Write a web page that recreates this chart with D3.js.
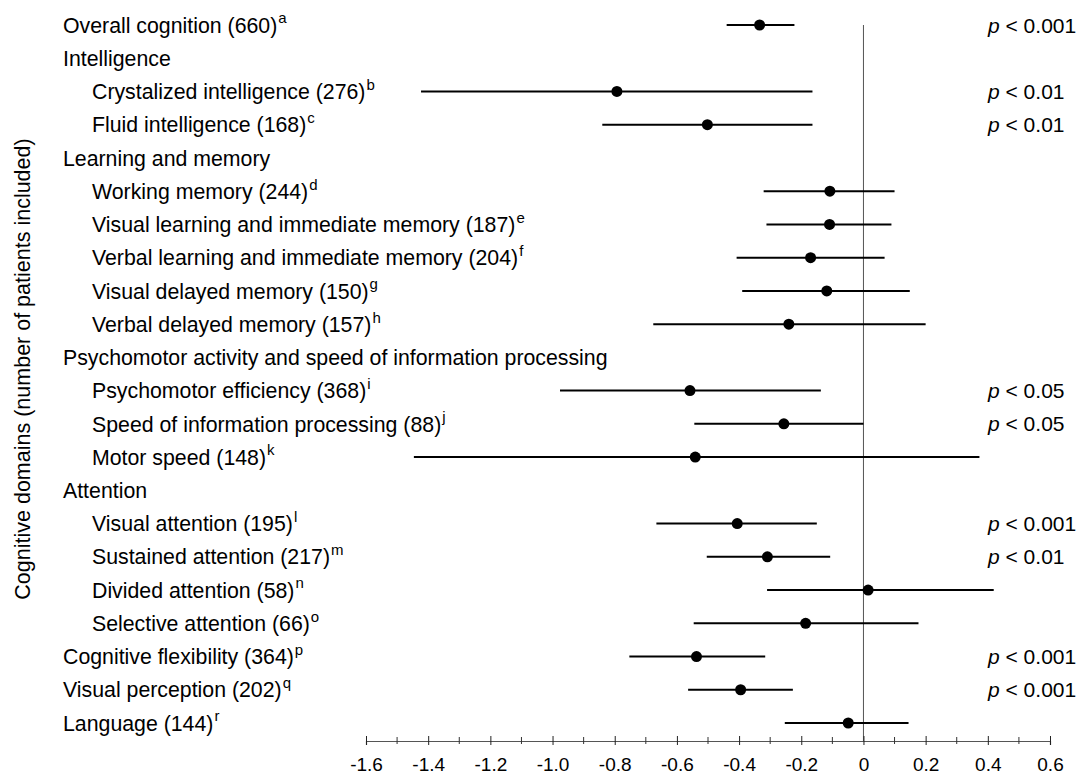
<!DOCTYPE html>
<html>
<head>
<meta charset="utf-8">
<script src="https://cdn.jsdelivr.net/npm/d3@7"></script>
<style>
  html, body { margin: 0; padding: 0; background: #fff; }
  svg { display: block; }
  text { font-family: "Liberation Sans", Arial, Helvetica, sans-serif; fill: #000; }
</style>
</head>
<body>
<svg id="chart" width="1079" height="776"></svg>
<script>
// ---- data ----
const labels = [
  "Overall cognition (660)",
  "Intelligence",
  "Crystalized intelligence (276)",
  "Fluid intelligence (168)",
  "Learning and memory",
  "Working memory (244)",
  "Visual learning and immediate memory  (187)",
  "Verbal learning and immediate memory (204)",
  "Visual delayed memory (150)",
  "Verbal delayed memory (157)",
  "Psychomotor activity and speed of information processing",
  "Psychomotor efficiency (368)",
  "Speed of information processing (88)",
  "Motor speed (148)",
  "Attention",
  "Visual attention (195)",
  "Sustained attention (217)",
  "Divided attention (58)",
  "Selective attention (66)",
  "Cognitive flexibility (364)",
  "Visual perception  (202)",
  "Language (144)"
];
const indentLevel = [0,0,1,1,0,1,1,1,1,1,0,1,1,1,0,1,1,1,1,0,0,0];
const superscripts = ["a","","b","c","","d","e","f","g","h","","i","j","k","","l","m","n","o","p","q","r"];
const estimates = [-0.334,null,-0.793,-0.502,null,-0.108,-0.109,-0.170,-0.118,-0.240,null,-0.558,-0.256,-0.541,null,-0.406,-0.309,0.015,-0.186,-0.537,-0.395,-0.049];
const lower     = [-0.440,null,-1.423,-0.840,null,-0.321,-0.312,-0.408,-0.390,-0.676,null,-0.976,-0.544,-1.446,null,-0.666,-0.504,-0.310,-0.546,-0.753,-0.564,-0.253];
const upper     = [-0.222,null,-0.164,-0.164,null, 0.100, 0.090, 0.068, 0.149, 0.200,null,-0.137, 0.000, 0.373,null,-0.150,-0.107, 0.419, 0.177,-0.316,-0.227, 0.145];
const pValues   = ["< 0.001","","< 0.01","< 0.01","","","","","","","","< 0.05","< 0.05","","","< 0.001","< 0.01","","","< 0.001","< 0.001",""];
const majorTicks = [-1.6,-1.4,-1.2,-1.0,-0.8,-0.6,-0.4,-0.2,0,0.2,0.4,0.6];
const minorTicks = [-1.5,-1.3,-1.1,-0.9,-0.7,-0.5,-0.3,-0.1,0.1,0.3,0.5];
const yTitle = "Cognitive domains (number of patients included)";

// ---- layout ----
const svg = d3.select("#chart");
const axisY = 741;
const x = d3.scaleLinear().domain([-1.6, 0.6]).range([366, 1050]);
const y = d3.scalePoint().domain(d3.range(labels.length)).range([25, 723]);

const rows = labels.map((l, i) => ({
  i, label: l, indent: indentLevel[i], sup: superscripts[i],
  est: estimates[i], lo: lower[i], hi: upper[i], p: pValues[i]
}));

// zero reference line
svg.append("line")
  .attr("x1", x(0)).attr("x2", x(0))
  .attr("y1", 25).attr("y2", axisY)
  .attr("stroke", "#555").attr("stroke-width", 1);

// axis
const axis = d3.axisBottom(x)
  .tickValues(majorTicks)
  .tickSize(4)
  .tickPadding(13)
  .tickFormat(d => d === 0 ? "0" : d3.format(".1f")(d).replace("\u2212", "-"));
const gAxis = svg.append("g").attr("transform", `translate(0,${axisY})`).call(axis);
gAxis.select(".domain").attr("stroke", "#555").attr("stroke-width", 1.2);
gAxis.selectAll(".tick line").attr("y1", -5).attr("y2", 4).attr("stroke", "#222");
gAxis.selectAll(".tick text")
  .attr("font-size", 19)
  .attr("font-family", "'Liberation Sans', Arial, sans-serif")
  .attr("fill", "#000");
// minor ticks
gAxis.selectAll(".minor").data(minorTicks).enter().append("line")
  .attr("class", "minor")
  .attr("x1", d => x(d)).attr("x2", d => x(d))
  .attr("y1", -4).attr("y2", 3)
  .attr("stroke", "#333");

// row labels
const lab = svg.append("g").selectAll("text").data(rows).enter().append("text")
  .attr("x", d => d.indent ? 92 : 63)
  .attr("y", d => y(d.i))
  .attr("dy", "0.36em")
  .attr("font-size", 21.3);
lab.append("tspan").text(d => d.label);
lab.filter(d => d.sup).append("tspan")
  .attr("font-size", 15)
  .attr("dy", "-0.62em")
  .attr("dx", 1)
  .text(d => d.sup);

// error bars
const data = rows.filter(d => d.est !== null);
svg.append("g").selectAll("line").data(data).enter().append("line")
  .attr("x1", d => x(d.lo)).attr("x2", d => x(d.hi))
  .attr("y1", d => y(d.i)).attr("y2", d => y(d.i))
  .attr("stroke", "#000").attr("stroke-width", 2);
svg.append("g").selectAll("circle").data(data).enter().append("circle")
  .attr("cx", d => x(d.est)).attr("cy", d => y(d.i))
  .attr("r", 5.5).attr("fill", "#000");

// p values
const pt = svg.append("g").selectAll("text").data(rows.filter(d => d.p)).enter().append("text")
  .attr("x", 988).attr("y", d => y(d.i)).attr("dy", "0.36em")
  .attr("font-size", 21);
pt.append("tspan").attr("font-style", "italic").text("p");
pt.append("tspan").text(d => " " + d.p);

// y title
svg.append("text")
  .attr("transform", "translate(22,369) rotate(-90)")
  .attr("text-anchor", "middle")
  .attr("dy", "0.36em")
  .attr("font-size", 21.5)
  .text(yTitle);
</script>
</body>
</html>
